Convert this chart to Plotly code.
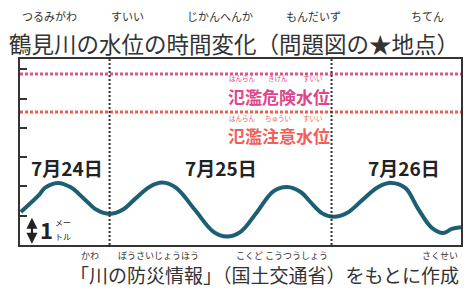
import plotly.graph_objects as go

# ---- data ----
hours = [-9.6, -7.6, -7.0, -5.6, -4.2, -2.8, -1.4, 0.0, 1.4, 2.85, 4.3, 5.7, 7.2,
         9.2, 11.2, 12.7, 14.2, 15.95, 17.7, 19.2, 20.7, 21.7, 23.0, 24.2, 25.7,
         27.35, 29.0, 30.5, 32.0, 33.3, 34.8, 36.1, 37.0, 38.0]
level_m = [1.13, 1.72, 1.95, 2.12, 1.97, 1.59, 1.2, 1.06, 1.2, 1.6, 1.98, 2.13, 1.95,
           1.21, 0.46, 0.29, 0.46, 1.13, 1.83, 1.98, 1.8, 1.47, 1.08, 0.96, 1.1,
           1.54, 1.97, 2.12, 1.94, 1.27, 0.6, 0.41, 0.55, 0.61]
danger_level = 5.84
caution_level = 4.54
day_starts = [0, 24]
day_labels = ["7月24日", "7月25日", "7月26日"]
title_text = "鶴見川の水位の時間変化（問題図の★地点）"
title_ruby = ["つるみがわ", "すいい", "じかんへんか", "もんだいず", "ちてん"]
danger_text = "氾濫危険水位"
danger_ruby = ["はんらん", "きけん", "すいい"]
caution_text = "氾濫注意水位"
caution_ruby = ["はんらん", "ちゅうい", "すいい"]
source_text = "「川の防災情報」（国土交通省）をもとに作成"
source_ruby = ["かわ", "ぼうさいじょうほう", "こくど こうつうしょう", "さくせい"]

FONT = "Noto Sans CJK JP"
L, R, T, B = 20, 463, 59, 245
W, H = 464, 289


def px(xp):
    return (xp - L) / (R - L)


def py(yp):
    return (B - yp) / (B - T)


fig = go.Figure()
fig.add_trace(go.Scatter(x=hours, y=level_m, mode="lines",
                         line=dict(color="#1d5f72", width=4, shape="spline",
                                   smoothing=1.0),
                         hoverinfo="skip", showlegend=False))

shapes = []
shapes.append(dict(type="line", xref="paper", x0=0, x1=1, yref="y",
                   y0=danger_level, y1=danger_level,
                   line=dict(color="#e6508a", width=3, dash="3px,2px")))
shapes.append(dict(type="line", xref="paper", x0=0, x1=1, yref="y",
                   y0=caution_level, y1=caution_level,
                   line=dict(color="#ef5f4c", width=3, dash="3px,2px")))
for d in day_starts:
    shapes.append(dict(type="line", xref="x", x0=d, x1=d, yref="paper", y0=0, y1=1,
                       line=dict(color="#333333", width=2, dash="2px,2px")))

ann = []


def text(xp, yp, t, size, color="#333333", xanchor="center", bold=False):
    ann.append(dict(xref="paper", yref="paper", x=px(xp), y=py(yp),
                    text=("<b>%s</b>" % t) if bold else t, showarrow=False,
                    xanchor=xanchor, yanchor="middle", borderpad=0,
                    font=dict(family=FONT, size=size, color=color)))


# title
text(235, 43, title_text, 22.5, "#333333")
for t, xc in zip(title_ruby, [50, 128, 221, 315, 429]):
    text(xc, 16, t, 11, "#333333")

# day labels
for t, xc in zip(day_labels, [67, 222, 406]):
    text(xc, 167, t, 19, "#222222", bold=True)

# level labels
text(332, 96, danger_text, 17, "#e0448a", xanchor="right", bold=True)
for t, xc in zip(danger_ruby, [244, 279, 314]):
    text(xc, 78, t, 6.5, "#e0448a")
text(332, 135, caution_text, 17, "#f0605a", xanchor="right", bold=True)
for t, xc in zip(caution_ruby, [244, 279, 314]):
    text(xc, 118, t, 6.5, "#f0605a")

# 1 m scale
ann.append(dict(xref="x", yref="y", axref="x", ayref="y",
                x=(32 - 110) / 9.29, y=0.04, ax=(32 - 110) / 9.29, ay=0.98,
                text="", showarrow=True, arrowside="end+start", arrowhead=2,
                startarrowhead=2, arrowsize=1, arrowwidth=2.2, arrowcolor="#222222"))
text(47, 229, "<b>1</b>", 22, "#222222")
text(63, 222, "メー", 8, "#222222")
text(63, 236, "トル", 8, "#222222")

# source
text(462, 274, source_text, 19, "#333333", xanchor="right")
for t, xc in zip(source_ruby, [90, 159, 283, 442]):
    text(xc, 255, t, 9, "#333333")

fig.update_layout(
    width=W, height=H,
    margin=dict(l=L, r=W - R, t=T, b=H - B, pad=0),
    paper_bgcolor="white", plot_bgcolor="white",
    shapes=shapes, annotations=ann, showlegend=False,
    xaxis=dict(range=[(L - 110) / 9.29, (R - 110) / 9.29], showgrid=False,
               zeroline=False, showticklabels=False, ticks="",
               showline=True, mirror=True, linecolor="#333333", linewidth=2),
    yaxis=dict(range=[0, (B - T) / 29.3], showgrid=False, zeroline=False,
               showticklabels=False, ticks="inside", tickvals=[1, 2, 3, 4, 5, 6],
               ticklen=7, tickwidth=1.5, tickcolor="#333333",
               showline=True, mirror=True, linecolor="#333333", linewidth=2),
)

fig.write_html("out.html", config={"displayModeBar": False},
               post_script="document.body.style.margin='0';")
